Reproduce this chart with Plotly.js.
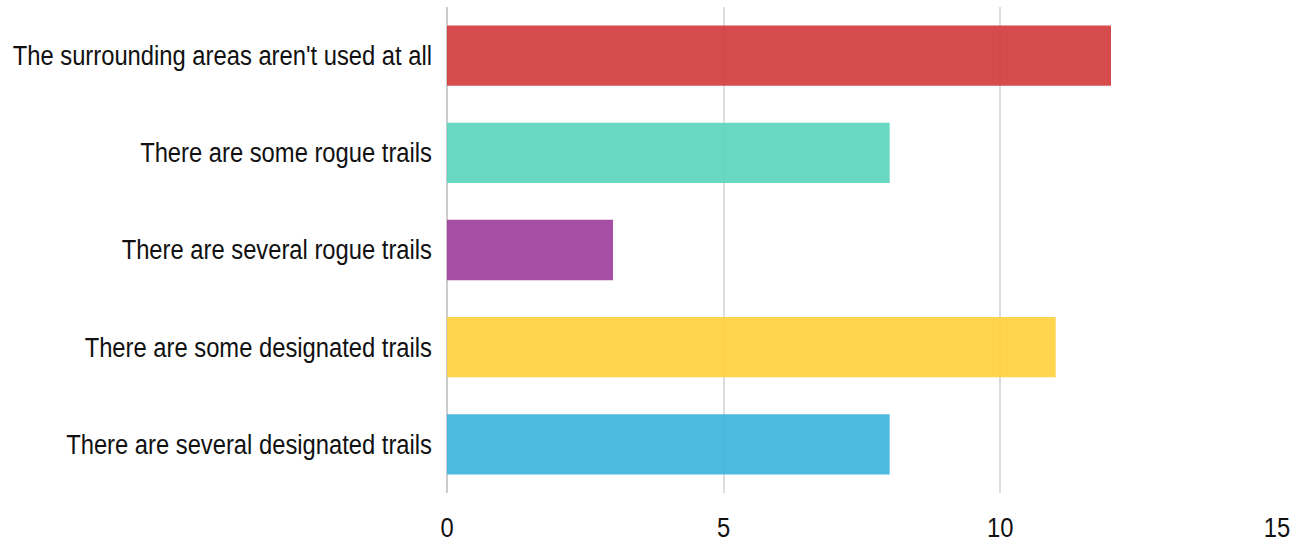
<!DOCTYPE html>
<html>
<head>
<meta charset="utf-8">
<script src="https://cdn.plot.ly/plotly-3.0.1.min.js"></script>
<style>html,body{margin:0;padding:0;background:#fff;}#chart{width:1304px;height:544px;}</style>
</head>
<body>
<div id="chart"></div>
<script>
const categories = [
  "The surrounding areas aren't used at all",
  "There are some rogue trails",
  "There are several rogue trails",
  "There are some designated trails",
  "There are several designated trails"
];
const counts = [12, 8, 3, 11, 8];
const barColors = ["#d1383a", "#59d4bb", "#9c3a9a", "#ffd03d", "#3ab2df"];
const xTicks = [0, 5, 10, 15];

const FONT = '"Liberation Sans Narrow", "Arial Narrow", "Liberation Sans", Arial, sans-serif';
const NARROW = 0.88;

function condenseLabels(gd) {
  gd.querySelectorAll('.xtick text, .ytick text').forEach(function (t) {
    t.removeAttribute('textLength');
    const w = t.getComputedTextLength();
    if (w > 0) {
      t.setAttribute('textLength', (w * NARROW).toFixed(2));
      t.setAttribute('lengthAdjust', 'spacingAndGlyphs');
    }
  });
}

Plotly.newPlot('chart', [{
  type: 'bar',
  orientation: 'h',
  x: counts,
  y: categories,
  marker: {color: barColors, opacity: 0.9, line: {width: 0}},
  hoverinfo: 'x+y'
}], {
  width: 1304,
  height: 544,
  margin: {l: 447, r: 27, t: 7, b: 51, pad: 0},
  paper_bgcolor: '#fff',
  plot_bgcolor: '#fff',
  bargap: 0.38,
  showlegend: false,
  font: {family: FONT, size: 27, color: '#111'},
  xaxis: {
    range: [0, 15],
    tickvals: xTicks,
    ticktext: xTicks.map(String),
    showgrid: true,
    gridcolor: '#dddddd',
    gridwidth: 2,
    zeroline: true,
    zerolinecolor: '#cccccc',
    zerolinewidth: 2,
    showline: false,
    ticks: '',
    ticklabelstandoff: 16,
    tickfont: {family: FONT, size: 27, color: '#111'},
    fixedrange: true
  },
  yaxis: {
    type: 'category',
    autorange: 'reversed',
    showgrid: false,
    zeroline: false,
    showline: false,
    ticks: '',
    ticklabelstandoff: 14,
    tickfont: {family: FONT, size: 27, color: '#111'},
    fixedrange: true
  }
}, {displayModeBar: false, staticPlot: true}).then(function (gd) {
  condenseLabels(gd);
});
</script>
</body>
</html>
